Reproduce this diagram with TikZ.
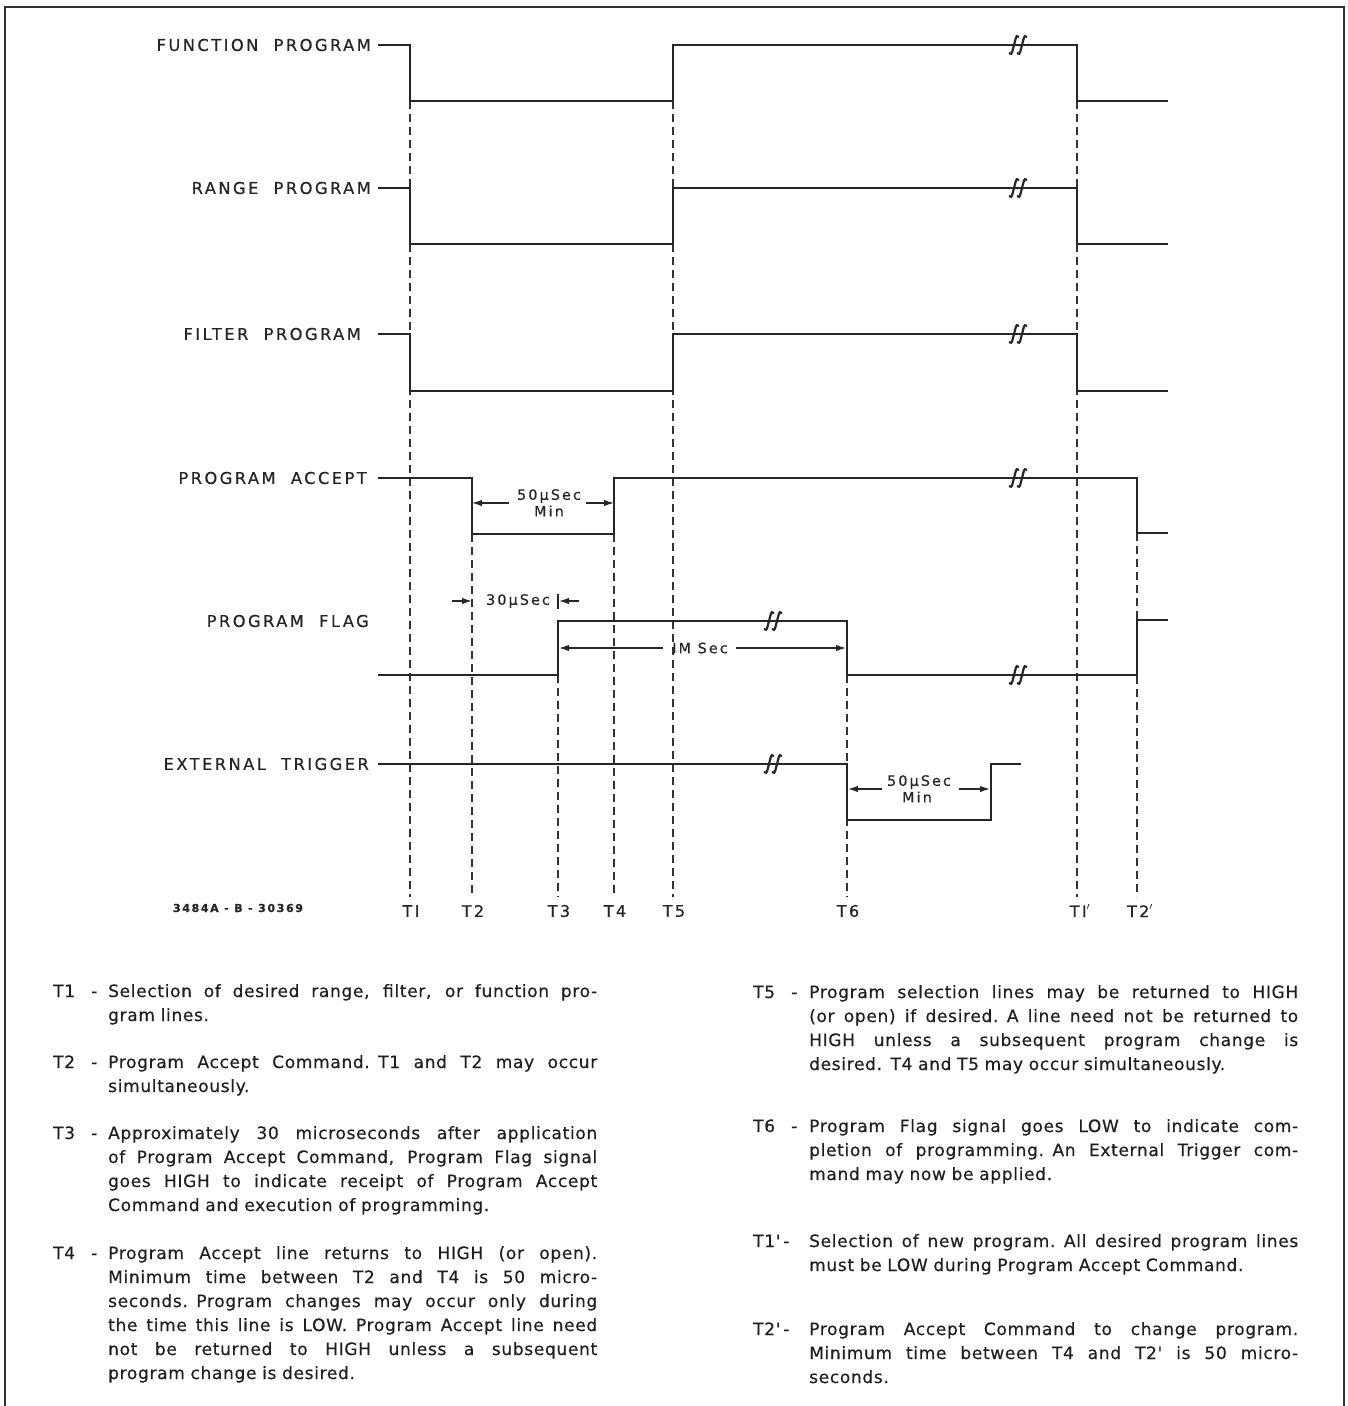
\documentclass[tikz,border=0pt]{standalone}
\usepackage{fontspec}
\setmainfont{DejaVu Sans}
\newfontfamily\dfont[LetterSpace=15,FakeBold=0.6]{DejaVu Sans}
\newfontfamily\tfont[LetterSpace=4,FakeBold=0.5]{DejaVu Sans}
\usetikzlibrary{arrows.meta}
\newcommand\jl[1]{\leavevmode\hbox to 489pt{\spaceskip=0.28em plus 8em minus 0.06em\relax #1}}
\newcommand\brkmark[2]{%
  \draw[brkline] ({#1-5},{#2+8}) .. controls ({#1-3.5},{#2+10}) and ({#1-2},{#2+9}) .. ({#1-1.3},{#2+5}) -- ({#1+1.3},{#2-5}) .. controls ({#1+2},{#2-9}) and ({#1+3.5},{#2-10}) .. ({#1+5},{#2-8});
  \draw[brkline] ({#1+3},{#2+8}) .. controls ({#1+4.5},{#2+10}) and ({#1+6},{#2+9}) .. ({#1+6.7},{#2+5}) -- ({#1+9.3},{#2-5}) .. controls ({#1+10},{#2-9}) and ({#1+11.5},{#2-10}) .. ({#1+13},{#2-8});}
\tikzset{
  wave/.style={line width=2.3pt, line join=miter, black!85},
  tline/.style={line width=1.2pt, dash pattern=on 8pt off 5pt, black!80},
  brkline/.style={line width=2.2pt, black!85},
  arr/.style={line width=1.3pt, black!85, -{Latex[length=10pt,width=6.5pt]}},
  wlabel/.style={font=\dfont\fontsize{16.3}{19}\selectfont, inner sep=0, anchor=east, black!85},
  anno/.style={font=\dfont\fontsize{14.3}{16}\selectfont, inner sep=0, black!85},
  tmark/.style={font=\dfont\fontsize{16}{18}\selectfont, inner sep=0, black!85},
  desctext/.style={font=\tfont\fontsize{17}{24}\selectfont, text width=489pt, inner sep=0, anchor=base west, align=left, black!88},
  desctag/.style={font=\tfont\fontsize{17}{24}\selectfont, inner sep=0, anchor=base west, black!88}
}
\begin{document}
\begin{tikzpicture}[x=1pt,y=-1pt]
\useasboundingbox (0,0) rectangle (1348,1406);
% frame
\draw[line width=1.8pt, black!80] (5,1406) -- (5,7) -- (1344,7) -- (1344,1406);

% time coordinates
\coordinate (t1) at (410,0);
\coordinate (t2) at (472,0);
\coordinate (t3) at (558,0);
\coordinate (t4) at (614,0);
\coordinate (t5) at (673,0);
\coordinate (t6) at (847,0);
\coordinate (t1p) at (1077,0);
\coordinate (t2p) at (1137,0);

% dashed time lines
\draw[tline] (410,101) -- (410,897);
\draw[tline] (472,534) -- (472,897);
\draw[tline] (558,675) -- (558,897);
\draw[tline] (614,534) -- (614,897);
\draw[tline] (673,101) -- (673,897);
\draw[tline] (847,675) -- (847,897);
\draw[tline] (1077,101) -- (1077,897);
\draw[tline] (1137,533) -- (1137,897);

% waveforms
\draw[wave] (378,45) -- (410,45) -- (410,101) -- (673,101) -- (673,45) -- (1077,45) -- (1077,101) -- (1168,101);
\draw[wave] (378,188) -- (410,188) -- (410,244) -- (673,244) -- (673,188) -- (1077,188) -- (1077,244) -- (1168,244);
\draw[wave] (378,334) -- (410,334) -- (410,391) -- (673,391) -- (673,334) -- (1077,334) -- (1077,391) -- (1168,391);
\draw[wave] (378,478) -- (472,478) -- (472,534) -- (614,534) -- (614,478) -- (1137,478) -- (1137,533) -- (1168,533);
\draw[wave] (378,675) -- (558,675) -- (558,621) -- (847,621) -- (847,675) -- (1137,675) -- (1137,620) -- (1168,620);
\draw[wave] (378,764) -- (847,764) -- (847,820) -- (991,820) -- (991,764) -- (1021,764);

% break marks
\brkmark{1014}{45}
\brkmark{1014}{188}
\brkmark{1014}{334}
\brkmark{1014}{478}
\brkmark{1014}{675}
\brkmark{769}{621}
\brkmark{769}{764}

% signal labels
\node[wlabel] (lf) at (371,45) {FUNCTION~~PROGRAM};
\node[wlabel] (lr) at (371,188) {RANGE~~PROGRAM};
\node[wlabel] (lfi) at (361,334) {FILTER~~PROGRAM};
\node[wlabel] (la) at (367,478) {PROGRAM~~ACCEPT};
\node[wlabel] (lfl) at (369,621) {PROGRAM~~FLAG};
\node[wlabel] (le) at (369,764) {EXTERNAL~~TRIGGER};

% 50 usec (program accept)
\node[anno] (a1) at (549,496) {50µSec};
\node[anno] (a1m) at (549,511) {Min};
\coordinate (a1l) at (509,503);
\coordinate (a1r) at (586,503);
\draw[arr] (a1l) -- (472,503);
\draw[arr] (a1r) -- (614,503);

% 30 usec
\node[anno] (a2) at (518,601) {30µSec};
\draw[arr] (452,601) -- (472,601);
\draw[arr] (579,601) -- (559,601);
\draw[line width=1.3pt, black!85] (558,594) -- (558,609);

% 1 msec
\node[anno] (a3) at (700,648) {IM~Sec};
\draw[arr] (663,648) -- (559,648);
\draw[arr] (736,648) -- (846,648);

% 50 usec (external trigger)
\node[anno] (a4) at (919,782) {50µSec};
\node[anno] (a4m) at (917,797) {Min};
\draw[arr] (882,789) -- (848,789);
\draw[arr] (959,789) -- (990,789);

% time labels
\node[tmark] (n1) at (411,911) {TI};
\node[tmark] (n2) at (473,911) {T2};
\node[tmark] (n3) at (559,911) {T3};
\node[tmark] (n4) at (615,911) {T4};
\node[tmark] (n5) at (674,911) {T5};
\node[tmark] (n6) at (848,911) {T6};
\node[tmark] (n7) at (1080,911) {TI$'$};
\node[tmark] (n8) at (1140,911) {T2$'$};
\node[anno, font=\dfont\bfseries\fontsize{11}{14}\selectfont] (code) at (238,908) {3484A - B - 30369};

% descriptions, left column
\node[desctag] (g1) at (53,997) {T1};
\node[desctag] (h1) at (91,997) {-};
\node[desctext] (d1) at (108,997) {\jl{Selection of desired range, filter, or function pro-}\\gram lines.};
\node[desctag] (g2) at (53,1068) {T2};
\node[desctag] (h2) at (91,1068) {-};
\node[desctext] (d2) at (108,1068) {\jl{Program Accept Command. T1 and T2 may occur}\\simultaneously.};
\node[desctag] (g3) at (53,1139) {T3};
\node[desctag] (h3) at (91,1139) {-};
\node[desctext] (d3) at (108,1139) {\jl{Approximately 30 microseconds after application}\\\jl{of Program Accept Command, Program Flag signal}\\\jl{goes HIGH to indicate receipt of Program Accept}\\Command and execution of programming.};
\node[desctag] (g4) at (53,1259) {T4};
\node[desctag] (h4) at (91,1259) {-};
\node[desctext] (d4) at (108,1259) {\jl{Program Accept line returns to HIGH (or open).}\\\jl{Minimum time between T2 and T4 is 50 micro-}\\\jl{seconds. Program changes may occur only during}\\\jl{the time this line is LOW. Program Accept line need}\\\jl{not be returned to HIGH unless a subsequent}\\program change is desired.};

% descriptions, right column
\node[desctag] (g5) at (753,998) {T5};
\node[desctag] (h5) at (791,998) {-};
\node[desctext] (d5) at (809,998) {\jl{Program selection lines may be returned to HIGH}\\\jl{(or open) if desired. A line need not be returned to}\\\jl{HIGH unless a subsequent program change is}\\desired. T4 and T5 may occur simultaneously.};
\node[desctag] (g6) at (753,1132) {T6};
\node[desctag] (h6) at (791,1132) {-};
\node[desctext] (d6) at (809,1132) {\jl{Program Flag signal goes LOW to indicate com-}\\\jl{pletion of programming. An External Trigger com-}\\mand may now be applied.};
\node[desctag] (g7) at (753,1247) {T1'\,-};
\node[desctext] (d7) at (809,1247) {\jl{Selection of new program. All desired program lines}\\must be LOW during Program Accept Command.};
\node[desctag] (g8) at (753,1335) {T2'\,-};
\node[desctext] (d8) at (809,1335) {\jl{Program Accept Command to change program.}\\\jl{Minimum time between T4 and T2' is 50 micro-}\\seconds.};
\end{tikzpicture}
\end{document}
